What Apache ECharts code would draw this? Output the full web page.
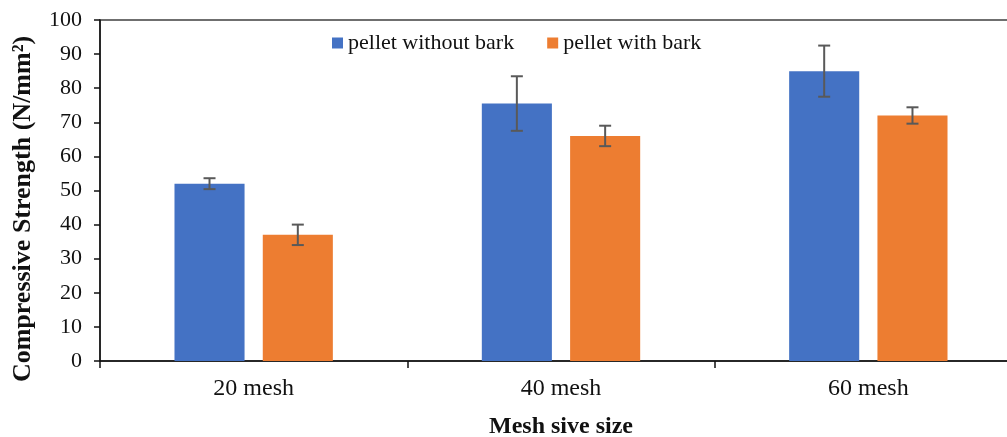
<!DOCTYPE html>
<html>
<head>
<meta charset="utf-8">
<script src="https://cdn.jsdelivr.net/npm/echarts@6/dist/echarts.min.js"></script>
<style>
html,body{margin:0;padding:0;background:#fff;}
#chart{width:1007px;height:437px;}
</style>
</head>
<body>
<div id="chart"></div>
<script>
// Compressive strength of pellets by mesh sieve size
const categories = ['20 mesh', '40 mesh', '60 mesh'];
const withoutBark = [52, 75.5, 85];
const withoutBarkErr = [1.6, 8, 7.5];
const withBark = [37, 66, 72];
const withBarkErr = [3, 3, 2.4];
const yTicks = [0, 10, 20, 30, 40, 50, 60, 70, 80, 90, 100];
const yTitle = 'Compressive Strength (N/mm²)';
const xTitle = 'Mesh sive size';

const FONT = '"Liberation Serif", "DejaVu Serif", serif';
const BLUE = '#4472c4';
const ORANGE = '#ed7d31';
const BAR_W = 0.228;   // bar width as a share of a category band
const BAR_GAP = 0.26;  // gap between the two bars as a share of bar width

// error bar drawn as a vertical whisker with caps, offset to its bar within the group
function errorSeries(values, errs, offsetSign) {
  return {
    type: 'custom',
    silent: true,
    z: 10,
    data: values.map((v, i) => [i, v - errs[i], v + errs[i]]),
    renderItem: function (params, api) {
      const idx = api.value(0);
      const lo = api.coord([idx, api.value(1)]);
      const hi = api.coord([idx, api.value(2)]);
      const band = api.size([1, 0])[0];
      const barW = band * BAR_W;
      const gap = barW * BAR_GAP;
      const x = lo[0] + offsetSign * (barW / 2 + gap / 2);
      const cap = 6;
      const style = { stroke: '#595959', lineWidth: 2 };
      return {
        type: 'group',
        children: [
          { type: 'line', shape: { x1: x, y1: lo[1], x2: x, y2: hi[1] }, style: style },
          { type: 'line', shape: { x1: x - cap, y1: lo[1], x2: x + cap, y2: lo[1] }, style: style },
          { type: 'line', shape: { x1: x - cap, y1: hi[1], x2: x + cap, y2: hi[1] }, style: style }
        ]
      };
    }
  };
}

const chart = echarts.init(document.getElementById('chart'));
chart.setOption({
  animation: false,
  textStyle: { fontFamily: FONT },
  grid: {
    left: 100, top: 20, width: 922, height: 341,
    containLabel: false, outerBoundsMode: 'none',
    show: true, borderColor: '#404040', borderWidth: 1.5, backgroundColor: 'transparent'
  },
  legend: {
    top: 32, left: 332, padding: 0,
    itemWidth: 11, itemHeight: 11, itemGap: 33,
    icon: 'rect',
    textStyle: { fontFamily: FONT, fontSize: 22, color: '#111' },
    data: ['pellet without bark', 'pellet with bark']
  },
  // vertical axis title, centred a little below the plot's middle
  graphic: [{
    type: 'text',
    x: 23, y: 209,
    rotation: Math.PI / 2,
    style: {
      text: yTitle,
      font: 'bold 26px ' + FONT,
      fill: '#111',
      align: 'center',
      verticalAlign: 'middle'
    }
  }],
  xAxis: {
    type: 'category',
    data: categories,
    name: xTitle,
    nameLocation: 'middle',
    nameGap: 54,
    nameTextStyle: { fontFamily: FONT, fontSize: 24, fontWeight: 'bold', color: '#111' },
    axisLine: { lineStyle: { color: '#111', width: 1.5 } },
    axisTick: { show: true, alignWithLabel: false, length: 7, lineStyle: { color: '#111', width: 1.5 } },
    axisLabel: { fontFamily: FONT, fontSize: 24, color: '#111', margin: 16 }
  },
  yAxis: {
    type: 'value',
    min: yTicks[0], max: yTicks[yTicks.length - 1], interval: 10,
    axisLine: { show: true, lineStyle: { color: '#111', width: 1.5 } },
    axisTick: { show: true, length: 6, lineStyle: { color: '#111', width: 1.5 } },
    axisLabel: { fontFamily: FONT, fontSize: 22, color: '#111', margin: 18 },
    splitLine: { show: false }
  },
  series: [
    {
      name: 'pellet without bark', type: 'bar', data: withoutBark,
      barWidth: (BAR_W * 100) + '%', barGap: (BAR_GAP * 100) + '%',
      itemStyle: { color: BLUE }
    },
    {
      name: 'pellet with bark', type: 'bar', data: withBark,
      barWidth: (BAR_W * 100) + '%', barGap: (BAR_GAP * 100) + '%',
      itemStyle: { color: ORANGE }
    },
    errorSeries(withoutBark, withoutBarkErr, -1),
    errorSeries(withBark, withBarkErr, 1)
  ]
});
</script>
</body>
</html>
